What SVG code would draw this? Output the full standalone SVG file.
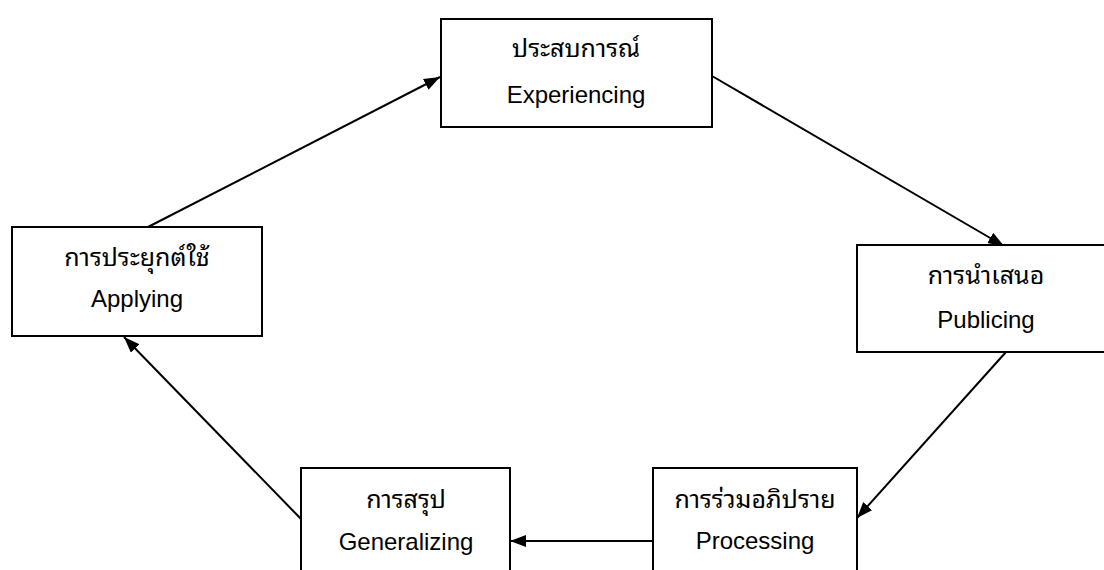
<svg xmlns="http://www.w3.org/2000/svg" width="1104" height="570" viewBox="0 0 1104 570">
<style>
.box{fill:#fff;stroke:#000;stroke-width:2}
.th{font-family:"Noto Sans Thai Looped","Noto Sans Thai","Liberation Sans",sans-serif;font-size:25px;text-anchor:middle;fill:#000}
.en{font-family:"Liberation Sans",Arial,sans-serif;font-size:24px;text-anchor:middle;fill:#000}
.conn{stroke:#000;stroke-width:2;fill:none;marker-end:url(#ah)}
</style>
<defs>
<marker id="ah" markerUnits="userSpaceOnUse" markerWidth="16" markerHeight="12" refX="16" refY="6" orient="auto">
<path d="M0,0 L16,6 L0,12 z" fill="#000"/>
</marker>
</defs>
<rect width="1104" height="570" fill="#fff"/>
<g id="connectors">
<line class="conn" x1="148" y1="227" x2="440" y2="77"/>
<line class="conn" x1="712" y1="76" x2="1004" y2="246"/>
<line class="conn" x1="1006" y1="352" x2="857" y2="518"/>
<line class="conn" x1="653" y1="541" x2="510" y2="541"/>
<line class="conn" x1="302" y1="520" x2="124" y2="337"/>
</g>
<g id="experiencing">
<rect class="box" x="441" y="19" width="271" height="108"/>
<text class="th" x="576" y="57">ประสบการณ์</text>
<text class="en" x="576" y="103">Experiencing</text>
</g>
<g id="publicing">
<rect class="box" x="857" y="245" width="262" height="107"/>
<text class="th" x="986" y="284">การนำเสนอ</text>
<text class="en" x="986" y="328">Publicing</text>
</g>
<g id="processing">
<rect class="box" x="653" y="468" width="204" height="120"/>
<text class="th" x="755" y="508">การร่วมอภิปราย</text>
<text class="en" x="755" y="549">Processing</text>
</g>
<g id="generalizing">
<rect class="box" x="301" y="468" width="209" height="120"/>
<text class="th" x="406" y="508">การสรุป</text>
<text class="en" x="406" y="550">Generalizing</text>
</g>
<g id="applying">
<rect class="box" x="12" y="227" width="250" height="109"/>
<text class="th" x="137" y="266">การประยุกต์ใช้</text>
<text class="en" x="137" y="307">Applying</text>
</g>
</svg>
